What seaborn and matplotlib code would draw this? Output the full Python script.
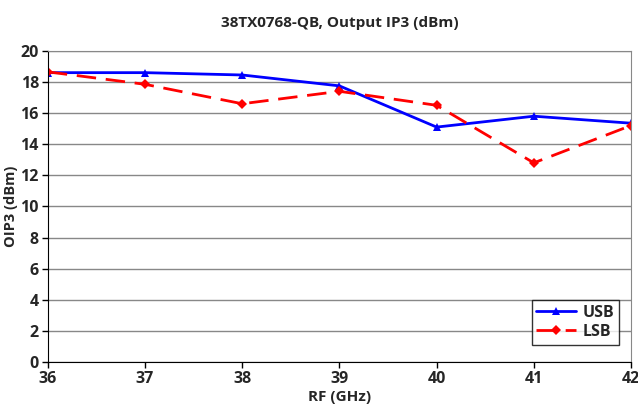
import matplotlib
matplotlib.use("Agg")
import matplotlib.pyplot as plt
import seaborn as sns
import pandas as pd

# Данные графика
rf_ghz = [36, 37, 38, 39, 40, 41, 42]
usb = [18.6, 18.6, 18.45, 17.75, 15.1, 15.8, 15.35]
lsb = [18.65, 17.85, 16.6, 17.4, 16.5, 12.8, 15.2]

df = pd.DataFrame({"rf": rf_ghz * 2,
                   "oip3": usb + lsb,
                   "band": ["USB"] * len(rf_ghz) + ["LSB"] * len(rf_ghz)})

sns.set_style("white")
plt.rcParams['font.family'] = ['Open Sans', 'DejaVu Sans']
plt.rcParams['font.weight'] = 'bold'

fig = plt.figure(figsize=(6.38, 4.17), dpi=100)
ax = fig.add_axes([0.075, 0.132, 0.914, 0.746])

sns.lineplot(data=df, x="rf", y="oip3", hue="band", style="band",
             palette={"USB": "#0000ff", "LSB": "#ff0000"},
             dashes={"USB": "", "LSB": (7, 3.5)},
             markers={"USB": "^", "LSB": "D"},
             markersize=5.5, linewidth=2, markeredgewidth=0, ax=ax)

ax.set_xlim(36, 42)
ax.set_ylim(0, 20)
ax.set_xticks(rf_ghz)
ax.set_yticks(range(0, 21, 2))
ax.yaxis.grid(True, color="#888888", linewidth=1)
ax.set_axisbelow(True)
for s in ["top", "right"]:
    ax.spines[s].set_color("#888888")
for s in ["left", "bottom"]:
    ax.spines[s].set_color("black")
ax.tick_params(axis="both", direction="out", length=4, width=1, labelsize=11.5,
               left=True, bottom=True, color="black", pad=2.5)
for lab in ax.get_xticklabels() + ax.get_yticklabels():
    lab.set_fontweight("bold")

ax.set_title("38TX0768-QB, Output IP3 (dBm)", fontsize=11, fontweight="bold", pad=17)
ax.set_xlabel("RF (GHz)", fontsize=11, fontweight="bold", labelpad=2)
ax.set_ylabel("OIP3 (dBm)", fontsize=10.5, fontweight="bold", labelpad=2)

leg = ax.legend(loc="lower right", bbox_to_anchor=(0.98, 0.055), frameon=True,
                fancybox=False, edgecolor="black", fontsize=11.5, handlelength=2.5,
                handletextpad=0.4, borderpad=0.3, borderaxespad=0, labelspacing=0.2)
leg.get_frame().set_linewidth(1)
for t in leg.get_texts():
    t.set_fontweight("bold")

fig.savefig("out.png", dpi=100)
